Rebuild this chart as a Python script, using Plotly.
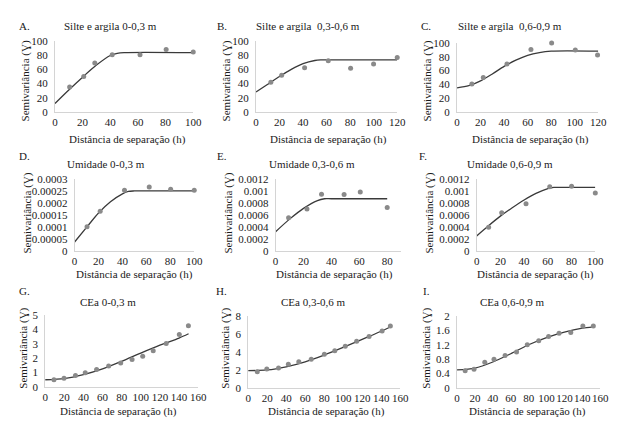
import plotly.graph_objects as go

W, H = 620, 425

# ---------------- data ----------------
A_lag = [10.6, 20.8, 28.8, 41.4, 61.5, 80.4, 100]
A_gamma = [35, 50, 69, 80.5, 80.5, 88, 84.5]
A_fit_h = [0, 10, 20, 30, 40, 45, 50, 100]
A_fit = [12, 31, 49, 66, 79.5, 82.5, 83.5, 83.5]

B_lag = [12.6, 21.8, 41.3, 61.4, 80.4, 99.9, 120]
B_gamma = [41.8, 51.8, 62.3, 72.3, 61.4, 67.7, 76.8]
B_fit_h = [0, 10, 20, 30, 40, 50, 55, 60, 120]
B_fit = [28, 39, 50, 60, 68, 72.5, 73.3, 73.5, 73.5]

C_lag = [12.6, 22.3, 42.4, 62.8, 80.4, 100.5, 119.4]
C_gamma = [40.4, 49.8, 69.5, 90.6, 100, 89.7, 82.6]
C_fit_h = [0, 10, 20, 30, 40, 50, 60, 70, 80, 120]
C_fit = [35, 38, 45, 55, 66, 75, 82, 86, 88, 88]

D_lag = [10.4, 21.4, 41.7, 62.4, 80.3, 100]
D_gamma = [0.000101, 0.000165, 0.000253, 0.000266, 0.000257, 0.000253]
D_fit_h = [0, 10, 20, 30, 40, 45, 50, 100]
D_fit = [0.000037, 0.000098, 0.000158, 0.000205, 0.000238, 0.000248, 0.00025, 0.00025]

E_lag = [9.3, 22.5, 32.9, 49.1, 60.7, 80]
E_gamma = [0.000551, 0.000697, 0.000945, 0.000941, 0.000983, 0.000723]
E_fit_h = [0, 10, 20, 30, 35, 40, 80]
E_fit = [0.00032, 0.00053, 0.00071, 0.00084, 0.00087, 0.00087, 0.00087]

F_lag = [10.1, 21.1, 41.6, 61.6, 80, 100]
F_gamma = [0.000396, 0.000637, 0.000787, 0.00107, 0.00108, 0.000964]
F_fit_h = [0, 10, 20, 30, 40, 50, 60, 65, 70, 100]
F_fit = [0.00025, 0.00042, 0.00058, 0.00072, 0.00085, 0.00096, 0.00104, 0.00106, 0.00106, 0.00106]

G_lag = [9.2, 19.7, 31.7, 41.9, 53.8, 66.4, 79, 90.9, 102, 113, 126.6, 140.3, 149.8]
G_gamma = [0.5, 0.61, 0.79, 0.99, 1.22, 1.46, 1.67, 1.91, 2.14, 2.52, 3.02, 3.65, 4.26]
G_fit_h = [0, 20, 40, 60, 80, 100, 120, 140, 150]
G_fit = [0.5, 0.58, 0.85, 1.25, 1.78, 2.35, 2.9, 3.4, 3.7]

H_lag = [9.6, 19.6, 32, 42.3, 53.3, 66.4, 80.2, 91.2, 102.2, 114.2, 127.3, 141, 149.7]
H_gamma = [1.81, 2.1, 2.21, 2.64, 2.9, 3.19, 3.73, 4.13, 4.64, 5.18, 5.72, 6.34, 6.88]
H_fit_h = [0, 20, 40, 60, 80, 100, 120, 140, 150]
H_fit = [1.92, 2.0, 2.35, 2.9, 3.65, 4.5, 5.4, 6.3, 6.8]

I_lag = [9.1, 19, 31, 41.3, 53.7, 66.5, 78.5, 91.3, 102.3, 114, 127.1, 140.6, 152.3]
I_gamma = [0.48, 0.52, 0.71, 0.80, 0.90, 1.0, 1.2, 1.31, 1.43, 1.52, 1.54, 1.72, 1.72]
I_fit_h = [0, 20, 40, 60, 80, 100, 120, 140, 152]
I_fit = [0.5, 0.55, 0.72, 0.95, 1.2, 1.4, 1.55, 1.66, 1.7]

letters = ["A.", "B.", "C.", "D.", "E.", "F.", "G.", "H.", "I."]
titles = ["Silte e argila 0-0,3 m", "Silte e argila  0,3-0,6 m", "Silte e argila  0,6-0,9 m",
          "Umidade 0-0,3 m", "Umidade 0,3-0,6 m", "Umidade 0,6-0,9 m",
          "CEa 0-0,3 m", "CEa 0,3-0,6 m", "CEa 0,6-0,9 m"]
x_title = "Distância de separação (h)"
y_title = "Semivariância (Ɣ)"

x_ticks_100 = [0, 20, 40, 60, 80, 100]
x_ticks_120 = [0, 20, 40, 60, 80, 100, 120]
x_ticks_80 = [0, 20, 40, 60, 80]
x_ticks_160 = [0, 20, 40, 60, 80, 100, 120, 140, 160]

y_ticks_100 = [0, 20, 40, 60, 80, 100]
y_ticks_D = [0, 0.00005, 0.0001, 0.00015, 0.0002, 0.00025, 0.0003]
y_text_D = ["0", "0.00005", "0.0001", "0.00015", "0.0002", "0.00025", "0.0003"]
y_ticks_EF = [0, 0.0002, 0.0004, 0.0006, 0.0008, 0.001, 0.0012]
y_text_EF = ["0", "0.0002", "0.0004", "0.0006", "0.0008", "0.001", "0.0012"]
y_ticks_G = [0, 1, 2, 3, 4, 5]
y_ticks_H = [0, 2, 4, 6, 8]
y_ticks_I = [0, 0.4, 0.8, 1.2, 1.6, 2]
y_text_I = ["0", "0.4", "0.8", "1.2", "1.6", "2"]

series = [
    (A_lag, A_gamma, A_fit_h, A_fit, [0, 100], x_ticks_100, [0, 100], y_ticks_100, None),
    (B_lag, B_gamma, B_fit_h, B_fit, [0, 120], x_ticks_120, [0, 100], y_ticks_100, None),
    (C_lag, C_gamma, C_fit_h, C_fit, [0, 120], x_ticks_120, [0, 100], y_ticks_100, None),
    (D_lag, D_gamma, D_fit_h, D_fit, [0, 100], x_ticks_100, [0, 0.0003], y_ticks_D, y_text_D),
    (E_lag, E_gamma, E_fit_h, E_fit, [0, 90], x_ticks_80, [0, 0.0012], y_ticks_EF, y_text_EF),
    (F_lag, F_gamma, F_fit_h, F_fit, [0, 100], x_ticks_100, [0, 0.0012], y_ticks_EF, y_text_EF),
    (G_lag, G_gamma, G_fit_h, G_fit, [0, 160], x_ticks_160, [0, 5], y_ticks_G, None),
    (H_lag, H_gamma, H_fit_h, H_fit, [0, 160], x_ticks_160, [0, 8], y_ticks_H, None),
    (I_lag, I_gamma, I_fit_h, I_fit, [0, 160], x_ticks_160, [0, 2], y_ticks_I, y_text_I),
]

# ---------------- layout geometry (pixels) ----------------
boxes = [(53, 194, 36, 109), (258, 402, 36, 109), (463, 607, 38, 109),
         (73, 195, 178, 252), (278, 406, 178, 252), (483, 604, 178, 252),
         (43, 199, 318, 392), (250, 405, 319, 393), (463, 609, 319, 393)]
letter_pos = [(22, 21), (223, 21), (431, 21), (22, 154), (223, 154), (428, 154),
              (22, 293), (223, 293), (432, 293)]
title_pos = [(110, 21), (311, 21), (517, 21), (105, 163), (315, 163), (517, 163),
             (107, 305), (317, 305), (520, 305)]
xt_pos = [(127, 137), (332, 137), (538, 137), (134, 276), (338, 276), (543, 276),
          (118, 417), (330, 417), (535, 417)]
yt_pos = [(23, 77), (228, 77), (433, 77), (25, 213), (230, 213), (435, 213),
          (20, 352), (226, 352), (431, 352)]

FONT = "Liberation Serif"
TXT = "#1a1a1a"

fig = go.Figure()
annotations = []

def px(x):
    return x / W

def py(y):
    return 1 - y / H

for i, (lag, gam, fh, fv, xr, xt, yr, yt, ytx) in enumerate(series):
    n = "" if i == 0 else str(i + 1)
    xa, ya = "x" + n, "y" + n
    x0, x1, yt0, yb = boxes[i]
    fig.add_trace(go.Scatter(x=fh, y=fv, mode="lines", xaxis=xa, yaxis=ya,
                             line=dict(color="#3a3a3a", width=1.3, shape="spline", smoothing=0.8),
                             hoverinfo="skip", showlegend=False))
    fig.add_trace(go.Scatter(x=lag, y=gam, mode="markers", xaxis=xa, yaxis=ya,
                             marker=dict(color="#8a8a8a", size=5), cliponaxis=False,
                             showlegend=False))
    fig.layout["xaxis" + n] = dict(
        domain=[px(x0), px(x1)], range=xr, anchor=ya, tickvals=xt, tickangle=0,
        showgrid=False, zeroline=False, showline=True, linecolor="#d4d4d4", linewidth=1,
        ticks="", ticklabelstandoff=0,
        tickfont=dict(family=FONT, size=11, color=TXT), fixedrange=True)
    ydict = dict(
        domain=[py(yb), py(yt0)], range=yr, anchor=xa, tickvals=yt,
        showgrid=False, zeroline=False, showline=True, linecolor="#d4d4d4", linewidth=1,
        ticks="", ticklabelstandoff=4,
        tickfont=dict(family=FONT, size=11, color=TXT), fixedrange=True)
    if ytx is not None:
        ydict["ticktext"] = ytx
    fig.layout["yaxis" + n] = ydict

    lx, ly = letter_pos[i]
    annotations.append(dict(x=px(lx), y=py(ly), xref="paper", yref="paper", text=letters[i],
                            showarrow=False, xanchor="center", yanchor="middle",
                            font=dict(family=FONT, size=11, color=TXT)))
    tx, ty = title_pos[i]
    annotations.append(dict(x=px(tx), y=py(ty), xref="paper", yref="paper", text=titles[i],
                            showarrow=False, xanchor="center", yanchor="middle",
                            font=dict(family=FONT, size=11, color=TXT)))
    ax_, ay_ = xt_pos[i]
    annotations.append(dict(x=px(ax_), y=py(ay_), xref="paper", yref="paper", text=x_title,
                            showarrow=False, xanchor="center", yanchor="middle",
                            font=dict(family=FONT, size=11, color=TXT)))
    bx, by = yt_pos[i]
    annotations.append(dict(x=px(bx), y=py(by), xref="paper", yref="paper", text=y_title,
                            showarrow=False, xanchor="center", yanchor="middle", textangle=-90,
                            font=dict(family=FONT, size=11, color=TXT)))

fig.update_layout(width=W, height=H, margin=dict(l=0, r=0, t=0, b=0),
                  paper_bgcolor="white", plot_bgcolor="white",
                  font=dict(family=FONT, size=11, color=TXT),
                  annotations=annotations, showlegend=False)

fig.write_html("out.html", config={"displayModeBar": False},
               post_script="document.body.style.margin='0';")
